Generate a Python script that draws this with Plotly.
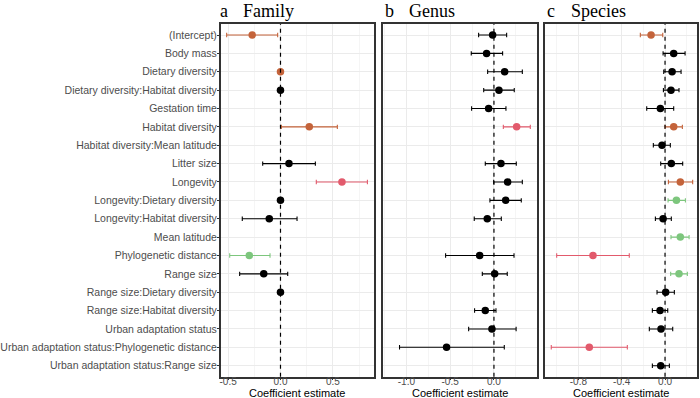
import plotly.graph_objects as go

terms = [
    "(Intercept)", "Body mass", "Dietary diversity", "Dietary diversity:Habitat diversity",
    "Gestation time", "Habitat diversity", "Habitat diversity:Mean latitude", "Litter size",
    "Longevity", "Longevity:Dietary diversity", "Longevity:Habitat diversity", "Mean latitude",
    "Phylogenetic distance", "Range size", "Range size:Dietary diversity",
    "Range size:Habitat diversity", "Urban adaptation status",
    "Urban adaptation status:Phylogenetic distance", "Urban adaptation status:Range size",
]

# Family
fam_est = [-0.27, None, 0.0, 0.0, None, 0.275, None, 0.081, 0.587, 0.0, -0.107, None,
           -0.298, -0.16, 0.0, None, None, None, None]
fam_lo = [-0.514, None, 0.0, 0.0, None, 0.008, None, -0.17, 0.342, 0.0, -0.365, None,
          -0.485, -0.39, 0.0, None, None, None, None]
fam_hi = [-0.027, None, 0.0, 0.0, None, 0.543, None, 0.333, 0.83, 0.0, 0.158, None,
          -0.1, 0.069, 0.0, None, None, None, None]
fam_grp = ["o", "", "o", "k", "", "o", "", "k", "r", "k", "k", "", "g", "k", "k", "", "", "", ""]

# Genus
gen_est = [-0.015, -0.084, 0.122, 0.057, -0.061, 0.259, None, 0.08, 0.156, 0.134, -0.076, None,
           -0.163, 0.008, None, -0.099, -0.023, -0.541, None]
gen_lo = [-0.175, -0.259, -0.072, -0.117, -0.255, 0.107, None, -0.099, -0.003, -0.046, -0.225, None,
          -0.552, -0.133, None, -0.221, -0.289, -1.078, None]
gen_hi = [0.145, 0.099, 0.324, 0.232, 0.137, 0.415, None, 0.255, 0.324, 0.312, 0.084, None,
          0.229, 0.152, None, 0.023, 0.253, 0.118, None]
gen_grp = ["k", "k", "k", "k", "k", "r", "", "k", "k", "k", "k", "", "k", "k", "", "k", "k", "k", ""]

# Species
spe_est = [-0.129, 0.08, 0.065, 0.055, -0.043, 0.08, -0.028, 0.058, 0.141, 0.105, -0.018, 0.141,
           -0.665, 0.129, 0.006, -0.046, -0.037, -0.699, -0.04]
spe_lo = [-0.228, -0.018, -0.012, -0.015, -0.169, 0.0, -0.108, -0.04, 0.031, 0.028, -0.089, 0.055,
          -1.0, 0.052, -0.074, -0.117, -0.145, -1.05, -0.117]
spe_hi = [-0.021, 0.185, 0.148, 0.129, 0.08, 0.16, 0.049, 0.163, 0.255, 0.188, 0.058, 0.222,
          -0.33, 0.206, 0.086, 0.025, 0.071, -0.348, 0.04]
spe_grp = ["o", "k", "k", "k", "k", "o", "k", "k", "o", "g", "k", "g", "r", "g", "k", "k", "k", "r", "k"]

panel_letters = ["a", "b", "c"]
panel_names = ["Family", "Genus", "Species"]
axis_title = "Coefficient estimate"

colors = {"k": "#000000", "o": "#C4633A", "r": "#E25A6C", "g": "#7DC67D"}

panels = [
    (fam_est, fam_lo, fam_hi, fam_grp),
    (gen_est, gen_lo, gen_hi, gen_grp),
    (spe_est, spe_lo, spe_hi, spe_grp),
]

W, H = 700, 398
x_px = [(220.7, 374.0), (382.7, 536.7), (545.3, 697.0)]
x_domains = [(a / W, b / W) for a, b in x_px]
x_ranges = [[-0.571, 0.893], [-1.27, 0.488], [-1.105, 0.295]]
x_ticks = [[-0.5, 0.0, 0.5], [-1.0, -0.5, 0.0], [-0.8, -0.4, 0.0]]
x_tick_text = [["-0.5", "0.0", "0.5"], ["-1.0", "-0.5", "0.0"], ["-0.8", "-0.4", "0.0"]]
x_minor = [(-0.25, 0.5), (-0.25, 0.5), (-0.2, 0.4)]

y_dom = ((H - 376.7) / H, (H - 24) / H)

fig = go.Figure()

for p, (est, lo, hi, grp) in enumerate(panels):
    xa = "x" if p == 0 else f"x{p+1}"
    ya = "y" if p == 0 else f"y{p+1}"
    fig.add_trace(go.Scatter(x=[None] * len(terms), y=terms, mode="markers",
                             showlegend=False, hoverinfo="skip", xaxis=xa, yaxis=ya))
    for g in ["k", "o", "r", "g"]:
        xs, ys, ep, em = [], [], [], []
        for i, t in enumerate(terms):
            if grp[i] == g and est[i] is not None:
                xs.append(est[i])
                ys.append(t)
                ep.append(hi[i] - est[i])
                em.append(est[i] - lo[i])
        if not xs:
            continue
        fig.add_trace(go.Scatter(
            x=xs, y=ys, mode="markers",
            marker=dict(color=colors[g], size=7.5),
            error_x=dict(type="data", array=ep, arrayminus=em, color=colors[g],
                         thickness=1.1, width=2.2),
            showlegend=False, xaxis=xa, yaxis=ya,
        ))

layout = dict(
    width=W, height=H,
    margin=dict(l=0, r=0, t=0, b=0, autoexpand=False),
    paper_bgcolor="white", plot_bgcolor="white",
    font=dict(family="Liberation Sans, Arial, sans-serif", color="#4D4D4D"),
    shapes=[], annotations=[],
)

for p in range(3):
    xk = "xaxis" if p == 0 else f"xaxis{p+1}"
    yk = "yaxis" if p == 0 else f"yaxis{p+1}"
    yref = "y" if p == 0 else f"y{p+1}"
    xref = "x" if p == 0 else f"x{p+1}"
    layout[xk] = dict(
        domain=list(x_domains[p]), range=x_ranges[p], anchor=yref, automargin=False,
        tickmode="array", tickvals=x_ticks[p], ticktext=x_tick_text[p],
        tickfont=dict(size=10, color="#4D4D4D"),
        ticks="outside", ticklen=2, tickcolor="#333333", tickwidth=1,
        ticklabelstandoff=-7,
        showgrid=True, gridcolor="#EBEBEB", gridwidth=1,
        minor=dict(tick0=x_minor[p][0], dtick=x_minor[p][1], showgrid=True,
                   gridcolor="#F5F5F5", gridwidth=0.8, ticks=""),
        showline=True, linecolor="#333333", linewidth=1.5, mirror=True,
        zeroline=False,
    )
    layout[yk] = dict(
        domain=list(y_dom), anchor=xref, type="category", automargin=False,
        categoryorder="array", categoryarray=terms,
        range=[len(terms) - 0.4, -0.6],
        showticklabels=(p == 0),
        tickfont=dict(size=10.5, color="#4D4D4D"),
        ticks="outside" if p == 0 else "", ticklen=2, tickcolor="#333333",
        ticklabelstandoff=-2,
        showgrid=True, gridcolor="#EBEBEB", gridwidth=1,
        showline=True, linecolor="#333333", linewidth=1.5, mirror=True,
        zeroline=False,
    )
    layout["shapes"].append(dict(
        type="line", xref=xref, yref=f"{yref} domain", x0=0, x1=0, y0=0, y1=1,
        line=dict(color="#000000", width=1.2, dash="4px,4px"), layer="above",
    ))
    cx = (x_px[p][0] + x_px[p][1]) / 2 / W
    layout["annotations"].append(dict(
        text=axis_title, xref="paper", yref="paper", x=cx, y=1 - 392.5 / H,
        xanchor="center", yanchor="middle", showarrow=False,
        font=dict(size=11, color="#000000"),
    ))

letter_x = [218.3, 382.7, 545.3]
name_x = [241, 407.3, 569.3]
for p in range(3):
    for txt, xx in ((panel_letters[p], letter_x[p]), (panel_names[p], name_x[p])):
        layout["annotations"].append(dict(
            text=txt, xref="paper", yref="paper", x=xx / W, y=1 - 11 / H,
            xanchor="left", yanchor="middle", showarrow=False,
            font=dict(family="Liberation Serif, Times New Roman, serif", size=18, color="#000000"),
        ))

fig.update_layout(**layout)
fig.write_html("out.html", config={"displayModeBar": False},
               post_script="document.body.style.margin='0px';document.body.style.padding='0px';")
